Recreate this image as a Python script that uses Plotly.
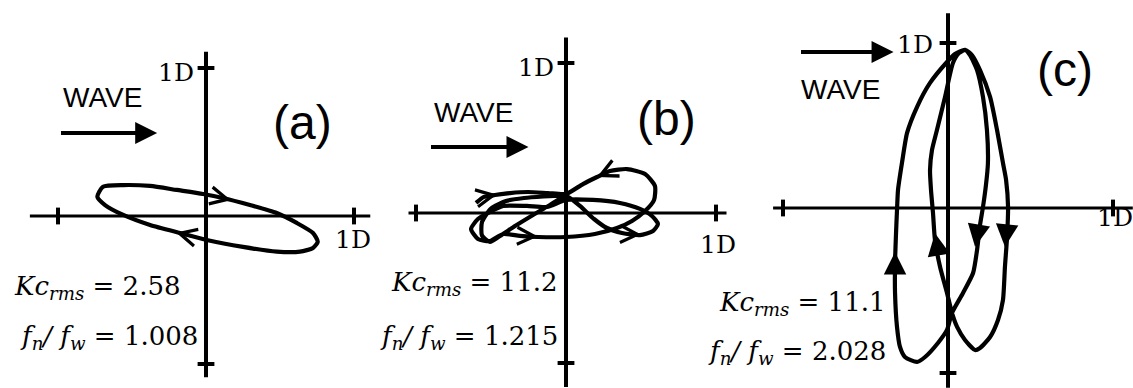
import plotly.graph_objects as go

# ---------------------------------------------------------------
# Cylinder orbits (in-line / cross-flow displacement, units of D)
# ---------------------------------------------------------------
TICKS = [-1.0, 1.0]

# (a) Kc_rms = 2.58, fn/fw = 1.008
A_ORBIT_X = [-0.734, -0.696, -0.559, -0.378, -0.198, -0.020, 0.115, 0.297, 0.478,
             0.613, 0.723, 0.755, 0.723, 0.635, 0.478, 0.250, 0.005, -0.176,
             -0.378, -0.559, -0.682, -0.734]
A_ORBIT_Y = [0.130, 0.198, 0.209, 0.203, 0.176, 0.149, 0.122, 0.074, 0.020,
             -0.047, -0.115, -0.174, -0.216, -0.241, -0.241, -0.209, -0.162, -0.115,
             -0.061, 0.007, 0.074, 0.130]
A_ARROW_X = [[0.061, 0.169], [-0.095, -0.203]]   # [tail, tip]
A_ARROW_Y = [[0.132, 0.107], [-0.139, -0.111]]
A_AXIS_X = [-1.19, 1.11]
A_AXIS_Y = [-1.09, 1.11]
A_KC = "2.58"
A_FREQ = "1.008"

# (b) Kc_rms = 11.2, fn/fw = 1.215
B_ORBIT_X = [-0.600, -0.547, -0.473, -0.373, -0.253, -0.120, 0.000, 0.113, 0.207,
             0.293, 0.407, 0.527, 0.593, 0.587, 0.527, 0.440, 0.340, 0.193, 0.000,
             -0.187, -0.307, -0.420, -0.507, -0.587, -0.633, -0.587, -0.520, -0.420,
             -0.260, -0.127, 0.000, 0.180, 0.360, 0.493, 0.573, 0.613, 0.580, 0.493,
             0.373, 0.273, 0.187, 0.093, 0.000, -0.107, -0.220, -0.340, -0.440, -0.507,
             -0.560, -0.560, -0.500, -0.400, -0.280, -0.150, -0.040]
B_ORBIT_Y = [0.067, 0.107, 0.120, 0.133, 0.140, 0.133, 0.127, 0.193, 0.240,
             0.280, 0.293, 0.260, 0.180, 0.087, 0.013, -0.053, -0.100, -0.140, -0.160,
             -0.160, -0.153, -0.140, -0.187, -0.173, -0.107, -0.040, 0.000, 0.047,
             0.047, 0.040, 0.087, 0.087, 0.067, 0.027, -0.020, -0.073, -0.120, -0.147,
             -0.133, -0.100, -0.040, 0.047, 0.113, 0.053, -0.013, -0.087, -0.153, -0.193,
             -0.150, -0.060, 0.030, 0.080, 0.100, 0.110, 0.115]
B_ARROW_X = [[-0.547, -0.460], [0.293, 0.207], [-0.293, -0.187], [0.393, 0.500]]
B_ARROW_Y = [[0.107, 0.123], [0.280, 0.240], [-0.153, -0.157], [-0.140, -0.143]]
B_AXIS_X = [-1.05, 1.07]
B_AXIS_Y = [-1.16, 1.17]
B_KC = "11.2"
B_FREQ = "1.215"

# (c) Kc_rms = 11.1, fn/fw = 2.028
C_ORBIT_X = [0.103, 0.042, -0.006, -0.109, -0.188, -0.248, -0.279, -0.303, -0.309,
             -0.315, -0.321, -0.321, -0.309, -0.291, -0.261, -0.188, -0.139, -0.061,
             -0.006, 0.024, 0.091, 0.152, 0.176, 0.194, 0.212, 0.230, 0.242, 0.236,
             0.212, 0.176, 0.133, 0.103,
             0.067, 0.030, -0.018, -0.067, -0.097, -0.109, -0.103, -0.091, -0.079,
             -0.048, -0.006, 0.024, 0.055, 0.103, 0.164, 0.194, 0.255, 0.303, 0.333,
             0.345, 0.358, 0.364, 0.352, 0.333, 0.297, 0.255, 0.194, 0.145, 0.103]
C_ORBIT_Y = [0.958, 0.933, 0.885, 0.758, 0.612, 0.455, 0.273, 0.109, -0.012,
             -0.152, -0.333, -0.515, -0.721, -0.842, -0.903, -0.933, -0.903, -0.818,
             -0.739, -0.636, -0.515, -0.394, -0.255, -0.103, 0.006, 0.139, 0.273, 0.473,
             0.673, 0.836, 0.927, 0.958,
             0.939, 0.879, 0.673, 0.473, 0.352, 0.230, 0.109, -0.030, -0.194,
             -0.358, -0.515, -0.636, -0.721, -0.800, -0.861, -0.848, -0.782, -0.679, -0.558,
             -0.358, -0.176, 0.006, 0.170, 0.273, 0.473, 0.673, 0.836, 0.927, 0.958]
C_ARROW_X = [[-0.321, -0.321], [-0.061, -0.079], [0.182, 0.164], [0.355, 0.345]]
C_ARROW_Y = [[-0.376, -0.267], [-0.255, -0.153], [-0.133, -0.235], [-0.133, -0.235]]
C_AXIS_X = [-1.06, 1.12]
C_AXIS_Y = [-1.09, 1.18]
C_KC = "11.1"
C_FREQ = "2.028"

PANEL_LABELS = ["(a)", "(b)", "(c)"]

# ---------------------------------------------------------------
# Page geometry (pixels) and label placement (units of D)
# ---------------------------------------------------------------
W, H = 1133, 388
FRAMES = [  # left edge, right edge, origin x, origin y, pixels per D
    (0, 380, 206, 216, 148),
    (380, 760, 566, 213, 150),
    (760, 1133, 948, 208, 165),
]
PLACES = [
    dict(top1d=(-0.20, 0.97), right1d=(0.99, -0.16), wave=(-0.70, 0.80),
         arrow=((-0.99, 0.56), (-0.33, 0.56)), letter=(0.65, 0.63),
         kc=(-0.155, -0.48), freq=(-0.04, -0.82),
         head=dict(arrowhead=5, arrowwidth=2.4, arrowsize=1.4)),
    dict(top1d=(-0.20, 0.97), right1d=(1.01, -0.21), wave=(-0.62, 0.67),
         arrow=((-0.91, 0.44), (-0.25, 0.44)), letter=(0.67, 0.63),
         kc=(-0.04, -0.467), freq=(-0.04, -0.827),
         head=dict(arrowhead=5, arrowwidth=2.4, arrowsize=1.4)),
    dict(top1d=(-0.20, 0.99), right1d=(1.01, -0.06), wave=(-0.65, 0.72),
         arrow=((-0.90, 0.945), (-0.33, 0.945)), letter=(0.71, 0.84),
         kc=(-0.364, -0.576), freq=(-0.364, -0.873),
         head=dict(arrowhead=2, arrowwidth=3, arrowsize=1.5)),
]

panels = [
    (A_ORBIT_X, A_ORBIT_Y, A_ARROW_X, A_ARROW_Y, A_AXIS_X, A_AXIS_Y, A_KC, A_FREQ),
    (B_ORBIT_X, B_ORBIT_Y, B_ARROW_X, B_ARROW_Y, B_AXIS_X, B_AXIS_Y, B_KC, B_FREQ),
    (C_ORBIT_X, C_ORBIT_Y, C_ARROW_X, C_ARROW_Y, C_AXIS_X, C_AXIS_Y, C_KC, C_FREQ),
]

INK = "black"
MATH_FONT = dict(family="DejaVu Serif", size=26, color=INK)
SERIF_FONT = dict(family="DejaVu Serif", size=25, color=INK)
SANS_FONT = dict(family="Liberation Sans", size=28, color=INK)
LETTER_FONT = dict(family="Liberation Sans", size=48, color=INK)

fig = go.Figure()
annotations = []
layout_axes = {}

for i, (ox_, oy_, arx, ary, axx, axy, kc, freq) in enumerate(panels):
    n = "" if i == 0 else str(i + 1)
    xref, yref = "x" + n, "y" + n
    left, right, cx, cy, s = FRAMES[i]
    place = PLACES[i]

    layout_axes["xaxis" + n] = dict(
        domain=[left / W, right / W], range=[(left - cx) / s, (right - cx) / s],
        visible=False, fixedrange=True, anchor=yref)
    layout_axes["yaxis" + n] = dict(
        domain=[0, 1], range=[(cy - H) / s, cy / s],
        visible=False, fixedrange=True, anchor=xref)

    # coordinate cross
    fig.add_trace(go.Scatter(x=axx, y=[0, 0], mode="lines", xaxis=xref, yaxis=yref,
                             line=dict(color=INK, width=3.2), hoverinfo="skip"))
    fig.add_trace(go.Scatter(x=[0, 0], y=axy, mode="lines", xaxis=xref, yaxis=yref,
                             line=dict(color=INK, width=4), hoverinfo="skip"))
    # 1D ticks
    fig.add_trace(go.Scatter(x=TICKS, y=[0, 0], mode="markers", xaxis=xref, yaxis=yref,
                             marker=dict(symbol="line-ns", size=12,
                                         line=dict(color=INK, width=4)),
                             hoverinfo="skip"))
    fig.add_trace(go.Scatter(x=[0, 0], y=TICKS, mode="markers", xaxis=xref, yaxis=yref,
                             marker=dict(symbol="line-ew", size=12,
                                         line=dict(color=INK, width=4)),
                             hoverinfo="skip"))

    # orbit
    fig.add_trace(go.Scatter(x=ox_, y=oy_, mode="lines", xaxis=xref, yaxis=yref,
                             line=dict(color=INK, width=4.2, shape="spline", smoothing=0.6),
                             hoverinfo="skip"))
    # direction arrowheads along the orbit (tail -> tip)
    for tx, ty in zip(arx, ary):
        annotations.append(dict(text="", x=tx[1], y=ty[1], ax=tx[0], ay=ty[0],
                                xref=xref, yref=yref, axref=xref, ayref=yref,
                                showarrow=True, arrowcolor=INK, standoff=0,
                                **place["head"]))

    def note(text, pos, font, xanchor="center"):
        annotations.append(dict(text=text, x=pos[0], y=pos[1], xref=xref, yref=yref,
                                showarrow=False, font=font, xanchor=xanchor,
                                yanchor="middle"))

    note("1D", place["top1d"], SERIF_FONT)
    note("1D", place["right1d"], SERIF_FONT)
    note("WAVE", place["wave"], SANS_FONT)
    note(PANEL_LABELS[i], place["letter"], LETTER_FONT)
    note("<i>Kc</i><sub><i>rms</i></sub> = " + kc, place["kc"], MATH_FONT, "right")
    note("<i>f</i><sub><i>n</i></sub><i>/ f</i><sub><i>w</i></sub> = " + freq,
         place["freq"], MATH_FONT, "right")

    # WAVE direction arrow
    (tx0, ty0), (tx1, ty1) = place["arrow"]
    annotations.append(dict(text="", x=tx1, y=ty1, ax=tx0, ay=ty0, xref=xref, yref=yref,
                            axref=xref, ayref=yref, showarrow=True, arrowhead=2,
                            arrowsize=1.1, arrowwidth=4, arrowcolor=INK, standoff=0))

fig.update_layout(
    width=W, height=H, margin=dict(l=0, r=0, t=0, b=0),
    font=dict(family="DejaVu Serif", size=26, color=INK),
    paper_bgcolor="white", plot_bgcolor="white", showlegend=False,
    annotations=annotations, **layout_axes)

fig.write_html("out.html")
